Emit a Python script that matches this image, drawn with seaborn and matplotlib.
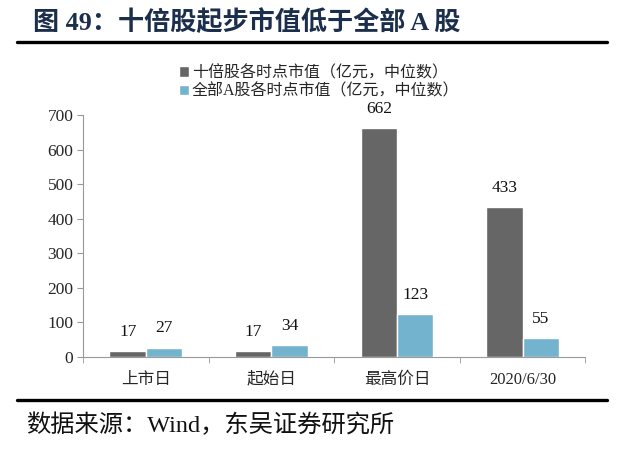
import seaborn as sns
import matplotlib.pyplot as plt
import pandas as pd

categories = ["上市日", "起始日", "最高价日", "2020/6/30"]
series_names = ["十倍股各时点市值（亿元，中位数）", "全部A股各时点市值（亿元，中位数）"]
tenbagger = [17, 17, 662, 433]
all_a = [27, 34, 123, 55]

df = pd.DataFrame({
    "cat": categories * 2,
    "series": [series_names[0]] * 4 + [series_names[1]] * 4,
    "value": tenbagger + all_a,
})

sns.set_style("white")
plt.rcParams["font.family"] = ["Liberation Serif", "Noto Sans CJK SC", "DejaVu Sans"]

fig = plt.figure(figsize=(6.2, 4.57), dpi=100)
ax = fig.add_axes([0.134, 0.219, 0.81, 0.529])

sns.barplot(data=df, x="cat", y="value", hue="series", ax=ax,
            palette=["#666666", "#74B3CE"], width=0.58, gap=0,
            saturation=1, order=categories, hue_order=series_names)

for cont in ax.containers:
    for bar in cont:
        h = bar.get_height()
        ax.annotate(f"{h:.0f}", (bar.get_x() + bar.get_width() / 2, h),
                    xytext=(0, 8), textcoords="offset points",
                    ha="center", va="bottom", fontsize=12.5, color="#111111")

ax.set_ylim(0, 700)
ax.set_yticks(range(0, 701, 100))
ax.set_xlim(-0.5, 3.5)
ax.set_xlabel("")
ax.set_ylabel("")
for s in ["top", "right"]:
    ax.spines[s].set_visible(False)
for s in ["left", "bottom"]:
    ax.spines[s].set_color("#999999")
    ax.spines[s].set_linewidth(0.8)
ax.tick_params(axis="y", left=True, length=4, color="#999999", labelsize=12.5, pad=3)
ax.tick_params(axis="x", bottom=False, labelsize=12, pad=7)
ax.set_xticks([-0.5, 0.5, 1.5, 2.5, 3.5], minor=True)
ax.tick_params(axis="x", which="minor", bottom=True, length=4, color="#999999")

handles, labels = ax.get_legend_handles_labels()
ax.get_legend().remove()
fig.legend(handles, labels, loc="center", bbox_to_anchor=(0.515, 0.82),
           frameon=False, fontsize=11.5, handlelength=0.6, handleheight=0.6,
           handletextpad=0.2, labelspacing=0.15, borderaxespad=0)

fig.text(0.053, 0.952, "图 49：十倍股起步市值低于全部 A 股", fontsize=18.8,
         fontweight="bold", color="#1B2E4B", va="center", ha="left")
fig.add_artist(plt.Line2D([0.027, 0.979], [0.908, 0.908], color="black",
                          linewidth=2.4, transform=fig.transFigure))
fig.add_artist(plt.Line2D([0.027, 0.979], [0.124, 0.124], color="black",
                          linewidth=2.4, transform=fig.transFigure))
fig.text(0.042, 0.07, "数据来源：Wind，东吴证券研究所", fontsize=17.5,
         color="#111111", va="center", ha="left")

fig.savefig("out.png", dpi=100)
